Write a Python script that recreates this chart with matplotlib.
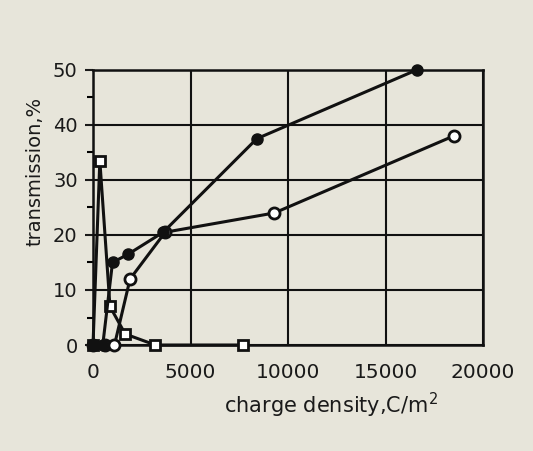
import numpy as np
import matplotlib.pyplot as plt
from matplotlib.ticker import MultipleLocator

# datos
x_filled = [0, 500, 1000, 1800, 3600, 8400, 16600]
y_filled = [0, 0, 15, 16.5, 20.5, 37.5, 50]

x_open = [0, 600, 1100, 1900, 3700, 9300, 18500]
y_open = [0, 0, 0, 12, 20.5, 24, 38]

x_square = [0, 350, 870, 1650, 3200, 7700]
y_square = [0, 33.5, 7, 2, 0, 0]

x_ticks = [0, 5000, 10000, 15000, 20000]
y_ticks = [0, 10, 20, 30, 40, 50]

bg = "#e7e5da"
fig = plt.figure(figsize=(5.33, 4.51), dpi=100, facecolor=bg)
ax = fig.add_axes([0.1745, 0.235, 0.7317, 0.61])
ax.set_facecolor(bg)

ax.set_xlim(0, 20000)
ax.set_ylim(0, 50)
ax.set_xticks(x_ticks)
ax.set_yticks(y_ticks)
ax.yaxis.set_minor_locator(MultipleLocator(5))
ax.grid(color="#111111", linewidth=1.5)
for s in ax.spines.values():
    s.set_linewidth(1.8)
    s.set_color("#111111")

ax.tick_params(axis="x", length=0, pad=13, labelsize=14.5, colors="#1a1a1a")
ax.tick_params(axis="y", which="major", length=6, width=1.5, pad=5,
               labelsize=14, colors="#1a1a1a")
ax.tick_params(axis="y", which="minor", length=4, width=1.5)

ax.plot(x_square, y_square, color="#111111", linewidth=2.2, marker="s",
        markersize=7, markerfacecolor="white", markeredgewidth=2, clip_on=False, zorder=3)
ax.plot(x_open, y_open, color="#111111", linewidth=2.2, marker="o",
        markersize=8, markerfacecolor="white", markeredgewidth=2, clip_on=False, zorder=4)
ax.plot(x_filled, y_filled, color="#111111", linewidth=2.2, marker="o",
        markersize=8, markerfacecolor="#111111", clip_on=False, zorder=5)

ax.text(0.61, -0.22, r"charge density,C/m$^{\mathregular{2}}$", transform=ax.transAxes,
        ha="center", va="center", fontsize=15, color="#1a1a1a")
ax.text(-0.15, 0.63, "transmission,%", transform=ax.transAxes, rotation=90,
        ha="center", va="center", fontsize=14, color="#1a1a1a")

plt.savefig("out.png", dpi=100, facecolor=bg)
